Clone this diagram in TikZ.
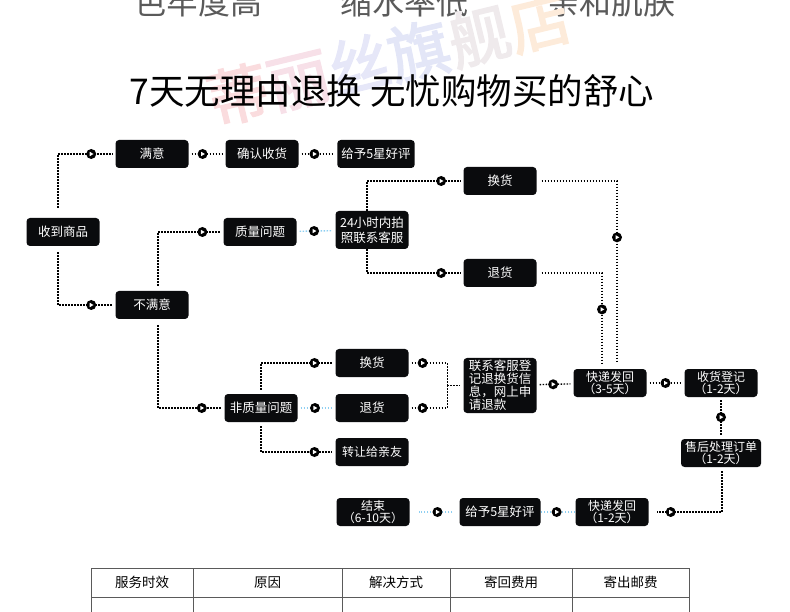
\documentclass[tikz,border=0pt]{standalone}
\usepackage{fontspec}
\newfontfamily\cjk{Noto Sans CJK SC}
\newfontfamily\cjkbold[FakeBold=2.5]{Noto Sans CJK SC}
\usetikzlibrary{calc}

\definecolor{boxblack}{HTML}{0A0B0D}
\definecolor{linkblue}{HTML}{8ECFF2}
\definecolor{toptext}{HTML}{5A5A5A}
\definecolor{rulegray}{HTML}{5A5A5A}
\definecolor{wmA}{HTML}{FADCDE}
\definecolor{wmB}{HTML}{F7E0E8}
\definecolor{wmC}{HTML}{E6E7F8}
\definecolor{wmD}{HTML}{E3E6F7}
\definecolor{wmE}{HTML}{EFEAEC}
\definecolor{wmF}{HTML}{FDEBDA}

\begin{document}
\begin{tikzpicture}[x=1pt,y=-1pt,
  box/.style={rectangle,rounded corners=3.5pt,fill=boxblack,text=white,minimum width=73pt,
    minimum height=28pt,inner xsep=4pt,inner ysep=1pt,align=center,
    font=\cjk\fontsize{12.5}{15}\selectfont},
  twoline/.style={font=\cjk\fontsize{12}{12.5}\selectfont},
  link/.style={draw=black,line width=1.4pt,dash pattern=on 1.4pt off 1.6pt,
    shorten <=3pt,shorten >=3pt},
  bluelink/.style={link,draw=linkblue},
  mk/.style={circle,fill=black,inner sep=0pt,minimum size=10pt,
    path picture={\fill[white,shift={(path picture bounding box.center)},rotate=#1]
      (2.3pt,0pt) -- (-1.5pt,2.2pt) -- (-1.5pt,-2.2pt) -- cycle;}}]
  \useasboundingbox (0,0) rectangle (790,612);
  \clip (0,0) rectangle (790,612);

  % heading
  \node[font=\cjk\fontsize{32}{32}\selectfont,text=toptext,anchor=base,inner sep=0pt] (feat1) at (198,15) {色牢度高};
  \node[font=\cjk\fontsize{32}{32}\selectfont,text=toptext,anchor=base,inner sep=0pt] (feat2) at (404,15) {缩水率低};
  \node[font=\cjk\fontsize{32}{32}\selectfont,text=toptext,anchor=base,inner sep=0pt] (feat3) at (611,15) {亲和肌肤};
  \node[rotate=13.6,font=\cjkbold\fontsize{62}{62}\selectfont,inner sep=0pt] (wm) at (389,58)
    {\textcolor{wmA}{蒂}\textcolor{wmB}{丽}\textcolor{wmC}{丝}\textcolor{wmD}{旗}\textcolor{wmE}{舰}\textcolor{wmF}{店}};
  \node[font=\cjk\fontsize{35.5}{36}\selectfont,anchor=base,inner sep=0pt] (title) at (392,105)
    {7天无理由退换 无忧购物买的舒心};

  % boxes
  \node[box] (recv) at (63,232) {收到商品};
  \node[box] (ok) at (152,154) {满意};
  \node[box] (confirm) at (262,154) {确认收货};
  \node[box] (good1) at (376,154) {给予5星好评};
  \node[box] (nok) at (152,305) {不满意};
  \node[box] (qual) at (260,232) {质量问题};
  \node[box,minimum height=38pt,font=\cjk\fontsize{12.5}{15}\selectfont] (call) at (372,230) {24小时内拍\\照联系客服};
  \node[box] (swap1) at (500,181) {换货};
  \node[box] (ret1) at (500,273) {退货};
  \node[box] (nonq) at (261,408) {非质量问题};
  \node[box] (swap2) at (372,363) {换货};
  \node[box] (ret2) at (372,408) {退货};
  \node[box,font=\cjk\fontsize{12}{15}\selectfont] (gift) at (372,452) {转让给亲友};
  \node[box,minimum height=55pt,align=left,font=\cjk\fontsize{12.5}{13}\selectfont] (lx) at (500,385.5)
    {联系客服登\\记退换货信\\息，网上申\\请退款};
  \node[box,twoline] (ship1) at (610,383) {快递发回\\（3-5天）};
  \node[box,twoline] (sign) at (721,383) {收货登记\\（1-2天）};
  \node[box,twoline] (proc) at (721,453) {售后处理订单\\（1-2天）};
  \node[box,twoline] (ship2) at (612,512) {快递发回\\（1-2天）};
  \node[box,minimum width=81pt] (good2) at (500,512) {给予5星好评};
  \node[box,twoline] (done) at (373,512) {结束\\（6-10天）};
  \coordinate (join) at ([xshift=-16pt]lx.west);

  % connectors
  \draw[link,shorten <=10pt] ([xshift=-5pt]recv.north) |- node[mk=0,pos=.79] (m1) {} (ok);
  \draw[link,shorten <=6pt] ([xshift=-5pt]recv.south) |- node[mk=0,pos=.79] (m2) {} (nok);
  \draw[link] (ok) -- node[mk=0,pos=.38] (m3) {} (confirm);
  \draw[link] (confirm) -- node[mk=0,pos=.41] (m4) {} (good1);
  \draw[link,shorten <=5pt] ([xshift=6pt]nok.north) |- node[mk=0,pos=.84] (m5) {} (qual);
  \draw[bluelink] (qual) -- node[mk=0,pos=.45] (m6) {} (call);
  \draw[link,shorten <=0pt] ([xshift=-5pt]call.north) |- node[mk=0,pos=.885] (m7) {} (swap1);
  \draw[link,shorten <=0pt] ([xshift=-5pt]call.south) |- node[mk=0,pos=.885] (m8) {} (ret1);
  \draw[link,shorten <=5pt,shorten >=6pt] (swap1) -| node[mk=-90,pos=.65] (m9) {} ([xshift=7pt]ship1.north);
  \draw[link,shorten <=5pt,shorten >=6pt] (ret1) -| node[mk=-90,pos=.69] (m10) {} ([xshift=-8pt]ship1.north);
  \draw[link,shorten <=6pt] ([xshift=6pt]nok.south) |- node[mk=0,pos=.83] (m11) {} (nonq);
  \draw[link,shorten <=4pt] (nonq.north) |- node[mk=0,pos=.86] (m12) {} (swap2);
  \draw[bluelink] (nonq) -- node[mk=0,pos=.46] (m13) {} (ret2);
  \draw[link,shorten <=4pt] (nonq.south) |- node[mk=0,pos=.86] (m14) {} (gift);
  \draw[link,shorten >=0pt] (swap2) -| node[mk=0,pos=.18] (m15) {} (join);
  \draw[link,shorten >=0pt] (ret2) -| node[mk=0,pos=.18] (m16) {} (join);
  \draw[link,shorten <=0pt] (join) -- (lx);
  \draw[link] (lx) -- node[mk=0,pos=.45] (m17) {} (ship1);
  \draw[link] (ship1) -- node[mk=0,pos=.5] (m18) {} (sign);
  \draw[link] (sign) -- node[mk=-90,pos=.48] (m19) {} (proc);
  \draw[link,shorten <=4pt,shorten >=8pt] ([xshift=1pt]proc.south) |- node[mk=180,pos=.85] (m20) {} (ship2);
  \draw[bluelink,shorten <=0pt,shorten >=0pt] (ship2) -- node[mk=180,pos=.54] (m21) {} (good2);
  \draw[bluelink,shorten <=7pt,shorten >=9pt] (good2) -- node[mk=180,pos=.44] (m22) {} (done);

  % table
  \draw[rulegray,line width=1pt] (91,612) |- (689,568) -- (689,612);
  \draw[rulegray,line width=1pt] (91,597) -- (689,597);
  \foreach \cx in {193,342,450,572}
    \draw[rulegray,line width=1pt] (\cx,568) -- (\cx,612);
  \node[font=\cjk\fontsize{13.5}{14}\selectfont] (h1) at (142,582.5) {服务时效};
  \node[font=\cjk\fontsize{13.5}{14}\selectfont] (h2) at (267.5,582.5) {原因};
  \node[font=\cjk\fontsize{13.5}{14}\selectfont] (h3) at (396,582.5) {解决方式};
  \node[font=\cjk\fontsize{13.5}{14}\selectfont] (h4) at (511,582.5) {寄回费用};
  \node[font=\cjk\fontsize{13.5}{14}\selectfont] (h5) at (630.5,582.5) {寄出邮费};
\end{tikzpicture}
\end{document}
